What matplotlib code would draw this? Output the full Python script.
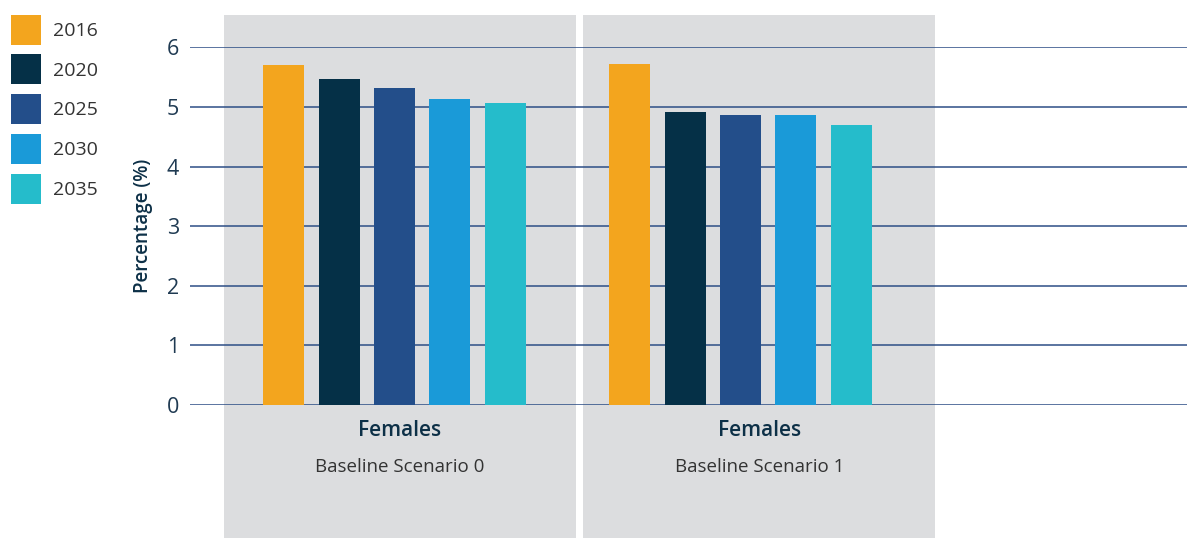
import matplotlib
matplotlib.use("Agg")
import matplotlib.pyplot as plt
from matplotlib.patches import Rectangle
from matplotlib.transforms import blended_transform_factory

# Data
years = ["2016", "2020", "2025", "2030", "2035"]
groups = ["Females", "Females"]
scenarios = ["Baseline Scenario 0", "Baseline Scenario 1"]
values = {
    "2016": [5.70, 5.72],
    "2020": [5.47, 4.92],
    "2025": [5.32, 4.87],
    "2030": [5.13, 4.87],
    "2035": [5.07, 4.70],
}
yticks = [0, 1, 2, 3, 4, 5, 6]

colors = ["#f3a51e", "#053047", "#234e8a", "#1a9ad8", "#25bccb"]
panel_color = "#dcdddf"
grid_color = "#2d4e86"
label_dark = "#0d3047"
text_gray = "#333333"

plt.rcParams["font.family"] = ["Open Sans", "DejaVu Sans"]

fig = plt.figure(figsize=(11.87, 5.38), dpi=100)
ax = fig.add_axes([190 / 1187, 1 - 405 / 538, 1 - 190 / 1187, (405 - 47.3) / 538])
ax.set_facecolor("none")

step = 0.16
width = 0.1185
n = len(years)
for j, (yr, col) in enumerate(zip(years, colors)):
    xs = [i + (j - (n - 1) / 2) * step for i in range(len(groups))]
    ax.bar(xs, values[yr], width=width, color=col, label=yr, zorder=3)

ax.set_xlim(-0.591, 2.29)
ax.set_ylim(0, 6)
ax.set_yticks(yticks)
ax.set_yticklabels([str(t) for t in yticks], fontsize=15.5, color="#1f3a52")
ax.tick_params(axis="y", length=0, pad=8)
ax.set_xticks([])
for s in ax.spines.values():
    s.set_visible(False)
for t in yticks:
    ax.axhline(t, color=grid_color, lw=1.1, zorder=2)

ax.set_ylabel("Percentage (%)", fontsize=13.5, color=label_dark, labelpad=10,
              fontweight="semibold")

# grey panels behind each group, running to the bottom of the figure
trans = blended_transform_factory(ax.transData, fig.transFigure)
panel_w = 1.018
for i in range(len(groups)):
    left = i * 1.038 - 0.493
    ax.add_patch(Rectangle((left, 0), panel_w, 1 - 15 / 538, transform=trans,
                           facecolor=panel_color, edgecolor="none",
                           clip_on=False, zorder=0))
    cx = left + panel_w / 2
    ax.text(cx, 1 - 430 / 538, groups[i], transform=trans, ha="center",
            va="center", fontsize=15, fontweight="semibold", color=label_dark)
    ax.text(cx, 1 - 467 / 538, scenarios[i], transform=trans, ha="center",
            va="center", fontsize=13.5, color=text_gray)

handles, labels = ax.get_legend_handles_labels()
fig.legend(handles, labels, loc="upper left", bbox_to_anchor=(0.0, 1 - 4 / 538),
           frameon=False, fontsize=14, handlelength=1.55, handleheight=2.0,
           labelspacing=0.5, handletextpad=0.62, borderaxespad=0.15,
           labelcolor=text_gray)

fig.savefig("out.png", dpi=100)
